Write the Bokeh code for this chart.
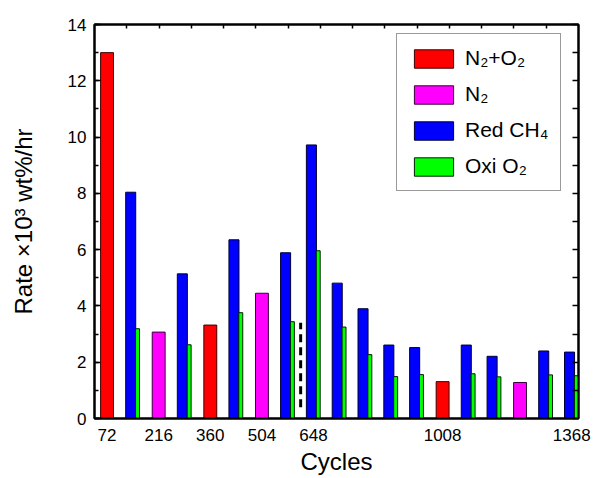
from bokeh.plotting import figure
from bokeh.models import Range1d, LinearAxis, FixedTicker, SingleIntervalTicker, Legend, LegendItem
from bokeh.transform import dodge
from bokeh.embed import file_html
from bokeh.resources import INLINE

# ---- data ----
n2o2_cycles = [72, 360, 1008]
n2o2_rate = [13.0, 3.32, 1.31]

n2_cycles = [216, 504, 1224]
n2_rate = [3.07, 4.45, 1.28]

redox_cycles = [144, 288, 432, 576, 648, 720, 792, 864, 936, 1080, 1152, 1296, 1368]
red_ch4 = [8.04, 5.14, 6.35, 5.89, 9.72, 4.81, 3.90, 2.61, 2.52, 2.61, 2.21, 2.40, 2.36]
oxi_o2 = [3.19, 2.62, 3.76, 3.44, 5.96, 3.25, 2.27, 1.49, 1.56, 1.59, 1.48, 1.55, 1.52]

x_tick_labels = [72, 216, 360, 504, 648, 1008, 1368]

divider_x = [612]
divider_y0 = [0.4]
divider_y1 = [3.4]

FONT = "Liberation Sans"

p = figure(width=602, height=478, output_backend="svg", toolbar_location=None,
           x_range=Range1d(37, 1387), y_range=Range1d(0, 14),
           min_border_left=94, min_border_right=24, min_border_top=24, min_border_bottom=60,
           x_axis_label="Cycles", y_axis_label="Rate \u00d710\u00b3 wt%/hr")
p.xgrid.visible = False
p.ygrid.visible = False
p.outline_line_color = "black"
p.outline_line_width = 2

r_n2o2 = p.vbar(x=n2o2_cycles, top=n2o2_rate, width=36, bottom=0,
                fill_color="#FF0000", line_color="#3a0000", line_width=1)
r_n2 = p.vbar(x=n2_cycles, top=n2_rate, width=36, bottom=0,
              fill_color="#FF00FF", line_color="#3a003a", line_width=1)
src = dict(c=redox_cycles, red=red_ch4, oxi=oxi_o2)
r_red = p.vbar(x=dodge("c", -6), top="red", width=28, bottom=0, source=src,
               fill_color="#0000FF", line_color="#000033", line_width=1)
r_oxi = p.vbar(x=dodge("c", 13), top="oxi", width=11, bottom=0, source=src,
               fill_color="#00FF00", line_color="#002200", line_width=1)

p.segment(x0=divider_x, y0=divider_y0, x1=divider_x, y1=divider_y1,
          line_color="black", line_width=3, line_dash="8 5")

# bottom axis
xa = p.xaxis[0]
xa.ticker = FixedTicker(ticks=x_tick_labels)
xa.major_tick_in = 0
xa.major_tick_out = 0
xa.minor_tick_in = 0
xa.minor_tick_out = 0
xa.major_label_standoff = 10
xa.axis_label_standoff = 4

# left axis
ya = p.yaxis[0]
ya.ticker = SingleIntervalTicker(interval=2, num_minor_ticks=2)
ya.major_tick_in = 6
ya.major_tick_out = 0
ya.minor_tick_in = 4
ya.minor_tick_out = 0
ya.major_label_standoff = 8
ya.axis_label_standoff = 28

for ax in (xa, ya):
    ax.axis_line_width = 2
    ax.major_tick_line_width = 1.5
    ax.minor_tick_line_width = 1.5
    ax.major_label_text_font = FONT
    ax.major_label_text_font_size = "17px"
    ax.major_label_text_color = "black"
    ax.axis_label_text_font = FONT
    ax.axis_label_text_font_size = "24px"
    ax.axis_label_text_font_style = "normal"
    ax.axis_label_text_color = "black"

# top axis (ticks only, drawn as minor ticks so no labels exist)
top = LinearAxis(ticker=FixedTicker(ticks=[], minor_ticks=list(range(127, 1387, 90))),
                 major_tick_in=0, major_tick_out=0, minor_tick_in=4, minor_tick_out=0,
                 axis_line_width=2, minor_tick_line_width=1.5)
p.add_layout(top, "above")

# right axis (ticks only)
right = LinearAxis(ticker=FixedTicker(ticks=[], minor_ticks=list(range(0, 15))),
                   major_tick_in=0, major_tick_out=0, minor_tick_in=6, minor_tick_out=0,
                   axis_line_width=2, minor_tick_line_width=1.5)
p.add_layout(right, "right")

legend = Legend(items=[
    LegendItem(label="N\u2082+O\u2082", renderers=[r_n2o2]),
    LegendItem(label="N\u2082", renderers=[r_n2]),
    LegendItem(label="Red CH\u2084", renderers=[r_red]),
    LegendItem(label="Oxi O\u2082", renderers=[r_oxi]),
], location=(302, 227))
legend.border_line_color = "#333333"
legend.border_line_width = 1
legend.background_fill_alpha = 1
legend.padding = 12
legend.spacing = 12
legend.margin = 0
legend.glyph_width = 49
legend.glyph_height = 23
legend.label_height = 23
legend.label_standoff = 7
legend.label_text_font = FONT
legend.label_text_font_size = "21px"
legend.label_text_color = "black"
p.add_layout(legend)

open("out.html", "w").write(file_html(p, INLINE))
